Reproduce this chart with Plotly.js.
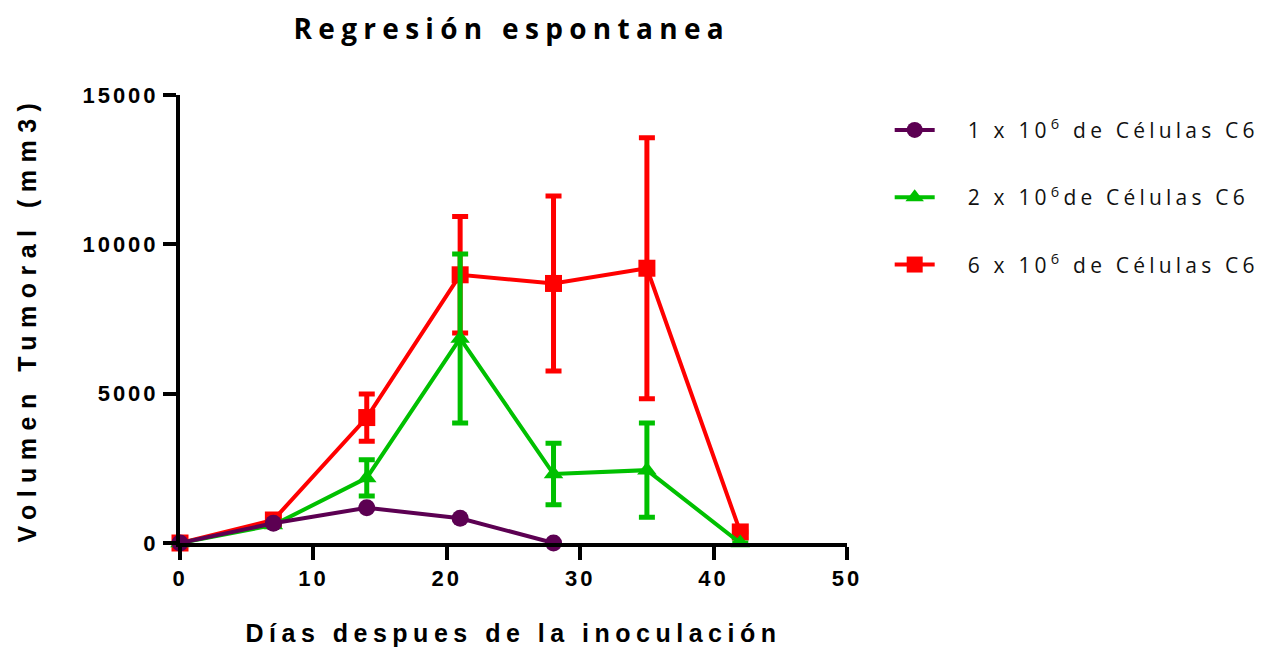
<!DOCTYPE html>
<html>
<head>
<meta charset="utf-8">
<script src="https://cdn.plot.ly/plotly-3.0.1.min.js"></script>
<style>
  html, body { margin: 0; padding: 0; background: #fff; }
  #chart { width: 1273px; height: 647px; }
  .gtitle { letter-spacing: 6.3px; }
  .xtitle { letter-spacing: 5.5px; }
  .ytitle { letter-spacing: 7.5px; }
  .xtick text, .ytick text { letter-spacing: 3px; }
  .legendtext { letter-spacing: 4.2px; transform: translateX(28px); }
  .legend .scrollbox { clip-path: none !important; }
</style>
</head>
<body>
<div id="chart"></div>
<script>
// Days after inoculation
const days = [0, 7, 14, 21, 28, 35, 42];

// 1 x 10^6 cells
const days1 = [0, 7, 14, 21, 28];
const vol1 = [0, 660, 1180, 830, 0];
const err1 = [0, 0, 0, 0, 0];

// 2 x 10^6 cells
const vol2 = [0, 600, 2180, 6850, 2310, 2440, 0];
const err2 = [0, 0, 610, 2830, 1030, 1580, 0];

// 6 x 10^6 cells
const vol6 = [0, 770, 4200, 8980, 8690, 9200, 370];
const err6 = [0, 0, 790, 1950, 2930, 4370, 0];

const legendNames = [
  '1 x 10<sup>6</sup> de Células C6',
  '2 x 10<sup>6</sup>de Células C6',
  '6 x 10<sup>6</sup> de Células C6'
];

const xTicks = [0, 10, 20, 30, 40, 50];
const yTicks = [0, 5000, 10000, 15000];

function series(x, y, err, name, color, symbol, group, rank) {
  return {
    x: x, y: y, name: name, legendgroup: group, legendrank: rank,
    type: 'scatter', mode: 'lines+markers', cliponaxis: false,
    line: { color: color, width: 4 },
    marker: { color: color, symbol: symbol, size: 17 },
    error_y: { type: 'data', array: err, visible: true, color: color, thickness: 5, width: 8 }
  };
}

// drawn red first so the smaller groups sit on top
const traces = [
  series(days, vol6, err6, legendNames[2], '#ff0000', 'square', 'c', 3),
  series(days, vol2, err2, legendNames[1], '#00c000', 'triangle-up', 'b', 2),
  series(days1, vol1, err1, legendNames[0], '#5c0052', 'circle', 'a', 1)
];

const tickFont = { family: 'Liberation Sans, Arial, sans-serif', size: 22, color: '#000', weight: 'bold' };
const titleFont = { family: 'Liberation Sans, Arial, sans-serif', size: 25, color: '#000' };

const layout = {
  width: 1273, height: 647,
  margin: { l: 180, r: 426, t: 95, b: 104 },
  paper_bgcolor: '#fff', plot_bgcolor: '#fff',
  showlegend: true,
  title: {
    text: '<b>Regresión espontanea</b>',
    font: { family: 'Open Sans, sans-serif', size: 28, color: '#000' },
    x: 0.402, xanchor: 'center', y: 0.955, yanchor: 'middle'
  },
  xaxis: {
    range: [0, 50], tickvals: xTicks, ticktext: xTicks.map(String),
    showgrid: false, zeroline: false,
    showline: true, linecolor: '#000', linewidth: 4,
    ticks: 'outside', ticklen: 13, tickwidth: 4, tickcolor: '#000',
    tickfont: tickFont,
    title: { text: '<b>Días despues de la inoculación</b>', font: titleFont, standoff: 36 }
  },
  yaxis: {
    range: [0, 15000], tickvals: yTicks, ticktext: yTicks.map(String),
    showgrid: false, zeroline: false,
    showline: true, linecolor: '#000', linewidth: 4,
    ticks: 'outside', ticklen: 13, tickwidth: 4, tickcolor: '#000',
    tickfont: tickFont,
    title: { text: '<b>Volumen Tumoral (mm3)</b>', font: titleFont, standoff: 40 }
  },
  legend: {
    x: 1.064, xanchor: 'left', y: 0.967, yanchor: 'top',
    traceorder: 'grouped', tracegroupgap: 37,
    font: { family: 'Open Sans, sans-serif', size: 21, color: '#111' },
    bgcolor: 'rgba(0,0,0,0)', itemwidth: 40
  }
};

Plotly.newPlot('chart', traces, layout, { displayModeBar: false, staticPlot: true });
</script>
</body>
</html>
